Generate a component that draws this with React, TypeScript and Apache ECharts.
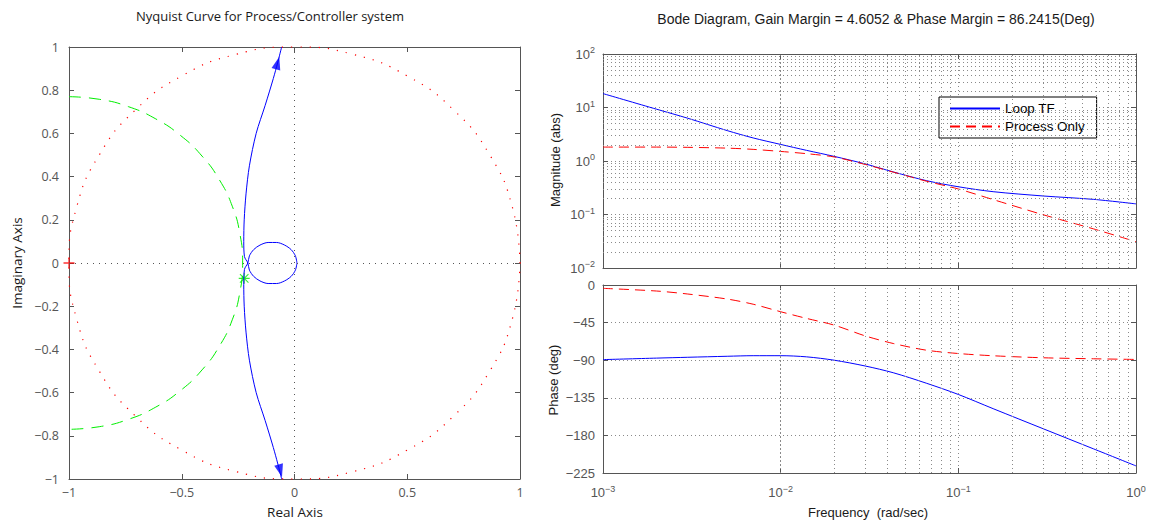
import React, { useEffect, useRef } from 'react';
import * as echarts from 'echarts';

// ---------- Bode data ----------
const FREQ = [0.001, 0.002, 0.003, 0.005, 0.007, 0.01, 0.014, 0.02, 0.03, 0.043, 0.066, 0.1, 0.157, 0.3, 0.575, 1];
const LOOP_MAG = [18.2, 9.3, 6.3, 3.7, 2.7, 2.04, 1.58, 1.22, 0.88, 0.625, 0.43, 0.33, 0.267, 0.222, 0.192, 0.158];
const PROC_MAG = [1.82, 1.82, 1.8, 1.74, 1.65, 1.51, 1.37, 1.19, 0.86, 0.62, 0.42, 0.3, 0.19, 0.099, 0.054, 0.031];
const LOOP_PHASE = [-89.3, -87.5, -86.5, -85.3, -84.6, -84.6, -86, -90, -97, -105, -117.5, -131, -148, -172, -196, -216.5];
const PROC_PHASE = [-4, -7.2, -10.8, -16.8, -23, -32, -40, -48, -61, -70, -78, -82, -84.7, -87.1, -88.3, -89.1];

// ---------- Nyquist data ----------
const UNIT_CIRCLE: [number, number][] = [
  [1, 0], [0.966, 0.259], [0.866, 0.5], [0.707, 0.707], [0.5, 0.866], [0.259, 0.966], [0, 1],
  [-0.259, 0.966], [-0.5, 0.866], [-0.707, 0.707], [-0.866, 0.5], [-0.966, 0.259], [-1, 0],
  [-0.966, -0.259], [-0.866, -0.5], [-0.707, -0.707], [-0.5, -0.866], [-0.259, -0.966], [0, -1],
  [0.259, -0.966], [0.5, -0.866], [0.707, -0.707], [0.866, -0.5], [0.966, -0.259], [1, 0],
];
const GREEN_ARC: [number, number][] = [
  [-1, 0.77], [-0.866, 0.758], [-0.737, 0.724], [-0.615, 0.667], [-0.505, 0.59], [-0.41, 0.495],
  [-0.333, 0.385], [-0.276, 0.263], [-0.242, 0.134], [-0.23, 0], [-0.242, -0.134], [-0.276, -0.263],
  [-0.333, -0.385], [-0.41, -0.495], [-0.505, -0.59], [-0.615, -0.667], [-0.737, -0.724],
  [-0.866, -0.758], [-1, -0.77],
];
const NYQ_UPPER: [number, number][] = [
  [-0.057, 1.0], [-0.075, 0.926], [-0.094, 0.854], [-0.13, 0.73], [-0.17, 0.6], [-0.2, 0.45],
  [-0.215, 0.32], [-0.223, 0.2], [-0.225, 0.1], [-0.222, 0.03], [-0.207, 0], [-0.2, -0.033],
  [-0.181, -0.062], [-0.153, -0.083], [-0.117, -0.095], [-0.079, -0.095], [-0.044, -0.083],
  [-0.015, -0.062], [0.004, -0.033], [0.011, 0],
];
const NYQ_LOWER: [number, number][] = [
  [-0.057, -1.0], [-0.075, -0.926], [-0.094, -0.854], [-0.13, -0.73], [-0.17, -0.6], [-0.2, -0.45],
  [-0.215, -0.32], [-0.223, -0.2], [-0.225, -0.1], [-0.222, -0.03], [-0.207, 0], [-0.2, 0.033],
  [-0.181, 0.062], [-0.153, 0.083], [-0.117, 0.095], [-0.079, 0.095], [-0.044, 0.083],
  [-0.015, 0.062], [0.004, 0.033], [0.011, 0],
];
const ARROW_POINTS: [number, number][] = [[-0.075, 0.926], [-0.063, -0.962]];
const ARROW_ROT = [-15, 195];
const STAR_POINT: [number, number] = [-0.223, -0.071];
const CRITICAL_POINT: [number, number] = [-1, 0];

const TITLE_NYQ = 'Nyquist Curve for Process/Controller system';
const TITLE_BODE = 'Bode Diagram, Gain Margin = 4.6052 & Phase Margin = 86.2415(Deg)';

const AX = '#555';
const GRID = '#8a8a8a';
const LEFT_FONT = 'Open Sans';
const RIGHT_FONT = 'Liberation Sans';

const minus = (s: string) => s.replace('-', '\u2212');

const logFmt = (v: number) => {
  const e = Math.round(Math.log10(v));
  return `{b|10}{s|${minus(String(e))}}`;
};
const logRich = {
  b: { fontSize: 13, fontFamily: RIGHT_FONT, color: AX },
  s: { fontSize: 9, fontFamily: RIGHT_FONT, color: AX, padding: [0, 0, 8, 0] },
};

const STAR_PATH =
  'path://M4.5,0h1v10h-1z M0,4.5h10v1h-10z M0.8,1.5L1.5,0.8L9.2,8.5L8.5,9.2z M8.5,0.8L9.2,1.5L1.5,9.2L0.8,8.5z';
const PLUS_PATH = 'path://M4.4,0h1.2v10h-1.2z M0,4.4h10v1.2h-10z';

function decadeMinors(decades: number[]) {
  const out: number[] = [];
  decades.forEach((d) => {
    for (let m = 2; m <= 9; m++) out.push(+(m * d).toPrecision(3));
  });
  return out;
}

function mirror(gridIndex: number, type: string, position: string, extra: any) {
  return {
    gridIndex,
    type,
    position,
    axisLine: { show: true, onZero: false, lineStyle: { color: AX, width: 1 } },
    axisTick: { show: true, inside: true, length: 5, lineStyle: { color: AX } },
    axisLabel: { show: false },
    splitLine: { show: false },
    ...extra,
  };
}

export default function App() {
  const ref = useRef<HTMLDivElement>(null);
  useEffect(() => {
    if (!ref.current) return;
    const chart = echarts.init(ref.current, undefined, { renderer: 'svg' });
    const fx = { min: 0.001, max: 1, logBase: 10 };
    const my = { min: 0.01, max: 100, logBase: 10, splitNumber: 4 };
    const py = { min: -225, max: 0, interval: 45 };
    const nx = { min: -1, max: 1, interval: 0.5 };
    const ny = { min: -1, max: 1, interval: 0.2 };
    const gridDots = { show: true, lineStyle: { color: GRID, type: [1, 3], width: 1 } };
    const minorX = decadeMinors([0.001, 0.01, 0.1]);
    const minorY = decadeMinors([0.01, 0.1, 1, 10]);
    const mk = (data: any[]) => ({
      silent: true,
      symbol: ['none', 'none'],
      label: { show: false },
      emphasis: { disabled: true },
      lineStyle: { color: GRID, type: [1, 3], width: 1 },
      data,
    });
    const leftLabel = { fontFamily: LEFT_FONT, fontSize: 12.5, color: AX };
    const txt = (text: string, x: number, y: number, size: number, family: string, rot = 0) => ({
      type: 'text', x, y, rotation: rot,
      style: { text, font: `${size}px "${family}"`, fill: '#1a1a1a', textAlign: 'center', textVerticalAlign: 'middle' },
    });

    const option: any = {
      animation: false,
      grid: [
        { left: 69, top: 47, width: 451, height: 432 },
        { left: 603, top: 54, width: 533, height: 214 },
        { left: 603, top: 285, width: 533, height: 188 },
      ],
      xAxis: [
        {
          gridIndex: 0, type: 'value', position: 'bottom', ...nx,
          axisLine: { show: true, onZero: false, lineStyle: { color: AX } },
          axisTick: { inside: true, length: 5, lineStyle: { color: AX } },
          axisLabel: { ...leftLabel, margin: 7, formatter: (v: number) => minus(String(v)) },
          splitLine: { show: false },
        },
        mirror(0, 'value', 'top', nx),
        {
          gridIndex: 1, type: 'log', position: 'bottom', ...fx,
          axisLine: { show: true, onZero: false, lineStyle: { color: AX } },
          axisTick: { inside: true, length: 5, lineStyle: { color: AX } },
          axisLabel: { show: false },
          splitLine: gridDots,
        },
        mirror(1, 'log', 'top', fx),
        {
          gridIndex: 2, type: 'log', position: 'bottom', ...fx,
          axisLine: { show: true, onZero: false, lineStyle: { color: AX } },
          axisTick: { inside: true, length: 5, lineStyle: { color: AX } },
          axisLabel: { formatter: logFmt, rich: logRich, margin: 11 },
          splitLine: gridDots,
        },
        mirror(2, 'log', 'top', fx),
      ],
      yAxis: [
        {
          gridIndex: 0, type: 'value', position: 'left', ...ny,
          axisLine: { show: true, onZero: false, lineStyle: { color: AX } },
          axisTick: { inside: true, length: 5, lineStyle: { color: AX } },
          axisLabel: {
            ...leftLabel, margin: 10,
            formatter: (v: number) => minus(String(Math.round(v * 10) / 10)),
          },
          splitLine: { show: false },
        },
        mirror(0, 'value', 'right', ny),
        {
          gridIndex: 1, type: 'log', position: 'left', ...my,
          axisLine: { show: true, onZero: false, lineStyle: { color: AX } },
          axisTick: { inside: true, length: 5, lineStyle: { color: AX } },
          axisLabel: { formatter: logFmt, rich: logRich, margin: 8 },
          splitLine: gridDots,
        },
        mirror(1, 'log', 'right', my),
        {
          gridIndex: 2, type: 'value', position: 'left', ...py,
          axisLine: { show: true, onZero: false, lineStyle: { color: AX } },
          axisTick: { inside: true, length: 5, lineStyle: { color: AX } },
          axisLabel: {
            fontFamily: RIGHT_FONT, fontSize: 13, color: AX, margin: 8,
            formatter: (v: number) => minus(String(v)),
          },
          splitLine: gridDots,
        },
        mirror(2, 'value', 'right', py),
      ],
      legend: {
        data: ['Loop TF', 'Process Only'],
        orient: 'vertical',
        left: 939,
        top: 97,
        backgroundColor: '#fff',
        borderColor: '#000',
        borderWidth: 1,
        padding: [5, 12, 5, 10],
        itemWidth: 50,
        itemHeight: 14,
        itemGap: 5,
        selectedMode: false,
        itemStyle: { opacity: 0 },
        textStyle: { fontFamily: RIGHT_FONT, fontSize: 13.4, color: '#000' },
      },
      graphic: [
        txt(TITLE_NYQ, 270, 16, 13, LEFT_FONT),
        txt(TITLE_BODE, 876, 19, 14, RIGHT_FONT),
        txt('Real Axis', 295, 512, 13.5, LEFT_FONT),
        txt('Imaginary Axis', 17, 263, 13.5, LEFT_FONT, Math.PI / 2),
        txt('Magnitude (abs)', 555, 160, 13, RIGHT_FONT, Math.PI / 2),
        txt('Phase (deg)', 553, 380, 13, RIGHT_FONT, Math.PI / 2),
        txt('Frequency  (rad/sec)', 868, 512, 13, RIGHT_FONT),
      ],
      series: [
        {
          type: 'line', xAxisIndex: 0, yAxisIndex: 0, data: [], silent: true,
          markLine: { ...mk([{ xAxis: 0 }, { yAxis: 0 }]), lineStyle: { color: '#555', type: [1, 5], width: 1 } },
        },
        {
          name: 'unit', type: 'line', xAxisIndex: 0, yAxisIndex: 0, data: UNIT_CIRCLE, smooth: 0.5,
          symbol: 'none', silent: true, clip: false,
          lineStyle: { color: '#ff0000', width: 1.2, type: [1.2, 8] },
        },
        {
          name: 'arc', type: 'line', xAxisIndex: 0, yAxisIndex: 0, data: GREEN_ARC, smooth: 0.5,
          symbol: 'none', silent: true,
          lineStyle: { color: '#00ee00', width: 1, type: [12, 8] },
        },
        {
          name: 'nyqU', type: 'line', xAxisIndex: 0, yAxisIndex: 0, data: NYQ_UPPER, smooth: 0.3,
          symbol: 'none', silent: true, lineStyle: { color: '#0000ff', width: 1 },
        },
        {
          name: 'nyqL', type: 'line', xAxisIndex: 0, yAxisIndex: 0, data: NYQ_LOWER, smooth: 0.3,
          symbol: 'none', silent: true, lineStyle: { color: '#0000ff', width: 1 },
        },
        {
          name: 'arrows', type: 'scatter', xAxisIndex: 0, yAxisIndex: 0, silent: true,
          symbol: 'triangle', symbolSize: [9, 13],
          itemStyle: { color: '#0000ff' },
          data: ARROW_POINTS.map((p, i) => ({ value: p, symbolRotate: ARROW_ROT[i] })),
        },
        {
          name: 'star', type: 'scatter', xAxisIndex: 0, yAxisIndex: 0, silent: true,
          symbol: STAR_PATH, symbolSize: 11, itemStyle: { color: '#00ee00' }, data: [STAR_POINT],
        },
        {
          name: 'crit', type: 'scatter', xAxisIndex: 0, yAxisIndex: 0, silent: true, clip: false,
          symbol: PLUS_PATH, symbolSize: 11, itemStyle: { color: '#ff0000' }, data: [CRITICAL_POINT],
        },
        {
          type: 'line', xAxisIndex: 2, yAxisIndex: 2, data: [], silent: true,
          markLine: mk([...minorX.map((v) => ({ xAxis: v })), ...minorY.map((v) => ({ yAxis: v }))]),
        },
        {
          type: 'line', xAxisIndex: 4, yAxisIndex: 4, data: [], silent: true,
          markLine: mk(minorX.map((v) => ({ xAxis: v }))),
        },
        {
          name: 'Loop TF', type: 'line', xAxisIndex: 2, yAxisIndex: 2, smooth: 0.3, symbol: 'none',
          data: FREQ.map((f, i) => [f, LOOP_MAG[i]]), lineStyle: { color: '#0000ff', width: 1 },
          itemStyle: { color: '#0000ff' }, z: 3,
        },
        {
          name: 'Process Only', type: 'line', xAxisIndex: 2, yAxisIndex: 2, smooth: 0.3, symbol: 'none',
          data: FREQ.map((f, i) => [f, PROC_MAG[i]]), lineStyle: { color: '#ff0000', width: 1, type: [10, 6] },
          itemStyle: { color: '#ff0000' }, z: 3,
        },
        {
          name: 'Loop TF', type: 'line', xAxisIndex: 4, yAxisIndex: 4, smooth: 0.3, symbol: 'none',
          data: FREQ.map((f, i) => [f, LOOP_PHASE[i]]), lineStyle: { color: '#0000ff', width: 1 },
          itemStyle: { color: '#0000ff' }, z: 3,
        },
        {
          name: 'Process Only', type: 'line', xAxisIndex: 4, yAxisIndex: 4, smooth: 0.3, symbol: 'none',
          data: FREQ.map((f, i) => [f, PROC_PHASE[i]]), lineStyle: { color: '#ff0000', width: 1, type: [10, 6] },
          itemStyle: { color: '#ff0000' }, z: 3,
        },
      ],
    };
    chart.setOption(option);
    return () => chart.dispose();
  }, []);
  return (
    <div
      ref={ref}
      style={{ position: 'absolute', left: 0, top: 0, width: 1157, height: 523, background: '#fff' }}
    />
  );
}
